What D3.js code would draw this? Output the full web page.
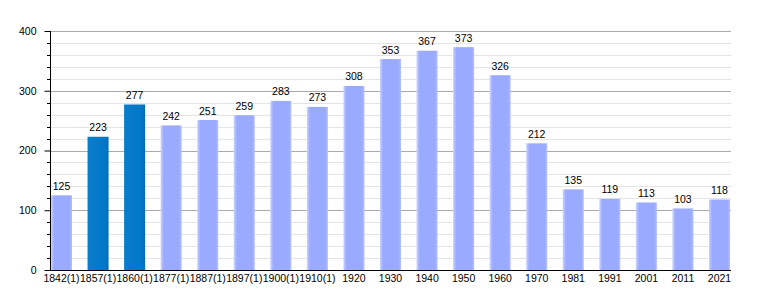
<!DOCTYPE html>
<html><head><meta charset="utf-8">
<script src="https://cdn.jsdelivr.net/npm/d3@7"></script>
<style>body{margin:0;background:#fff}svg{display:block;font-family:"Liberation Sans",Arial,sans-serif}</style>
</head><body><svg id="c" width="760" height="300"></svg>
<script>
const categories = ["1842(1)","1857(1)","1860(1)","1877(1)","1887(1)","1897(1)","1900(1)","1910(1)","1920","1930","1940","1950","1960","1970","1981","1991","2001","2011","2021"];
const values = [125,223,277,242,251,259,283,273,308,353,367,373,326,212,135,119,113,103,118];
const highlighted = ["1857(1)","1860(1)"];
const yTicks = [0,100,200,300,400];
const yMinorTicks = d3.range(0,401,20);

(function(){
const svg = d3.select("#c");
const mL = 50, mR = 731, mT = 31, mB = 270;
const FS = 10.5;
const x = d3.scaleBand().domain(categories).range([51,730]).paddingInner(0.425).paddingOuter(0);
const y = d3.scaleLinear().domain([0,400]).range([mB, mT]);

const defs = svg.append("defs");
const g1 = defs.append("linearGradient").attr("id","lg").attr("x1","0").attr("x2","1").attr("y1","0").attr("y2","0");
g1.append("stop").attr("offset","0").attr("stop-color","#c9d3ff");
g1.append("stop").attr("offset","0.15").attr("stop-color","#9aaaff");
g1.append("stop").attr("offset","0.88").attr("stop-color","#9aaaff");
g1.append("stop").attr("offset","1").attr("stop-color","#b5c2ff");
const g2 = defs.append("linearGradient").attr("id","dg").attr("x1","0").attr("x2","1").attr("y1","0").attr("y2","0");
g2.append("stop").attr("offset","0").attr("stop-color","#0a7ccc");
g2.append("stop").attr("offset","0.85").attr("stop-color","#0077c8");
g2.append("stop").attr("offset","1").attr("stop-color","#0a6aae");

svg.append("g").selectAll("line").data(yMinorTicks.filter(d=>d%100!==0)).join("line")
  .attr("x1",mL).attr("x2",mR).attr("y1",d=>Math.round(y(d))+0.5).attr("y2",d=>Math.round(y(d))+0.5)
  .attr("stroke","#e4e4e4").attr("stroke-width",1);
svg.append("g").selectAll("line").data(yTicks.filter(d=>d>0)).join("line")
  .attr("x1",mL).attr("x2",mR).attr("y1",d=>Math.round(y(d))+0.5).attr("y2",d=>Math.round(y(d))+0.5)
  .attr("stroke","#aaaaaa").attr("stroke-width",1);

svg.append("g").selectAll("rect").data(categories).join("rect")
  .attr("x",d=>x(d)).attr("width",x.bandwidth())
  .attr("y",(d,i)=>y(values[i])).attr("height",(d,i)=>y(0)-y(values[i]))
  .attr("fill",d=>highlighted.includes(d)?"url(#dg)":"url(#lg)");

svg.append("g").selectAll("text").data(categories).join("text")
  .attr("x",d=>x(d)+x.bandwidth()/2).attr("y",(d,i)=>y(values[i])-5.5)
  .attr("text-anchor","middle").attr("font-size",FS).attr("fill","#000")
  .text((d,i)=>values[i]);

const ya = svg.append("g").attr("transform",`translate(${mL+0.5},0)`)
  .call(d3.axisLeft(y).tickValues(yTicks).tickSize(6).tickPadding(8).tickFormat(d3.format("d")));
ya.select(".domain").remove();
ya.selectAll("text").attr("font-size",FS).attr("font-family","Liberation Sans, Arial, sans-serif").attr("fill","#000");
ya.selectAll("line").attr("stroke","#000");
svg.append("g").selectAll("line").data(yMinorTicks.filter(d=>d%100!==0)).join("line")
  .attr("x1",mL-3).attr("x2",mL).attr("y1",d=>Math.round(y(d))+0.5).attr("y2",d=>Math.round(y(d))+0.5)
  .attr("stroke","#000");
svg.append("line").attr("x1",mL+0.5).attr("x2",mL+0.5).attr("y1",mT).attr("y2",mB+0.5).attr("stroke","#000");

const xa = svg.append("g").attr("transform",`translate(0,${mB+0.5})`)
  .call(d3.axisBottom(x).tickSize(0).tickPadding(4));
xa.select(".domain").attr("d",`M${mL},0H${mR}`).attr("stroke","#000");
xa.selectAll("text").attr("font-size",FS).attr("font-family","Liberation Sans, Arial, sans-serif").attr("fill","#000");
})();
</script></body></html>
